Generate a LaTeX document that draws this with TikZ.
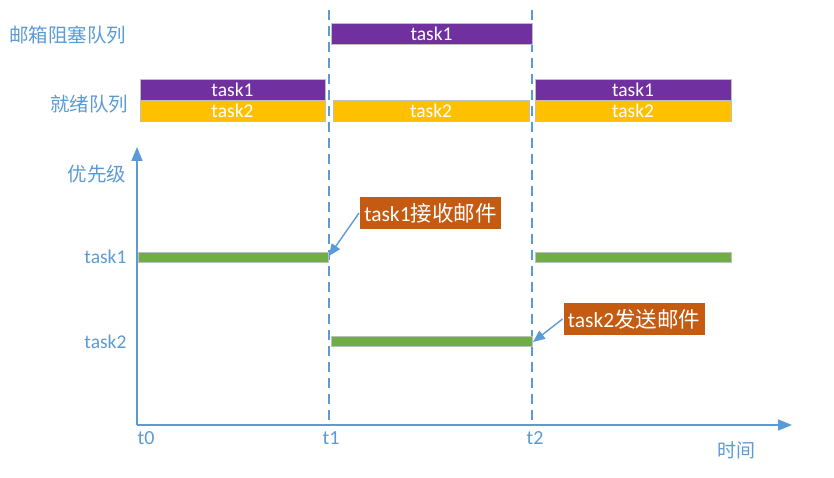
\documentclass[tikz,border=0pt]{standalone}
\usepackage{fontspec}
\setmainfont{Carlito}
\newfontfamily\cjk{Noto Sans CJK SC}
\usetikzlibrary{arrows.meta}
\definecolor{axblue}{HTML}{5B9BD5}
\definecolor{tpurple}{HTML}{7030A0}
\definecolor{tyellow}{HTML}{FFC000}
\definecolor{tgreen}{HTML}{70AD47}
\definecolor{torange}{HTML}{C55A11}
\begin{document}
\begin{tikzpicture}[x=1pt,y=-1pt,
  bar/.style={draw=black!25,line width=0.8pt,minimum height=21pt,inner sep=0pt,text=white,font=\fontsize{19.5}{19.5}\selectfont},
  pbar/.style={bar,fill=tpurple},
  ybar/.style={bar,fill=tyellow},
  gbar/.style={draw=black!25,line width=0.6pt,fill=tgreen,minimum height=10pt,inner sep=0pt},
  lab/.style={text=axblue,anchor=east,font=\fontsize{19.5}{19.5}\selectfont},
  clab/.style={text=axblue,anchor=east,font=\cjk\fontsize{19.5}{19.5}\selectfont},
  callout/.style={fill=torange,draw=white,line width=0.6pt,text=white,inner xsep=5pt,minimum height=33pt,font=\fontsize{21.5}{21.5}\selectfont},
  tick/.style={text=axblue,font=\fontsize{20}{20}\selectfont},
  dashline/.style={draw=axblue,line width=1.5pt,dash pattern=on 10pt off 6pt},
  axis/.style={draw=axblue,line width=1.6pt,-{Triangle[length=14pt,width=11pt]}},
  pointer/.style={draw=axblue,line width=1.4pt,-{Triangle[length=12pt,width=10pt]}}
]
\useasboundingbox (0,0) rectangle (834,478);
% dashed time markers
\coordinate (d1t) at (329,10);
\coordinate (d1b) at (329,425);
\coordinate (d2t) at (532,10);
\coordinate (d2b) at (532,425);
\draw[dashline] (d1t) -- (d1b);
\draw[dashline] (d2t) -- (d2b);
% axes
\coordinate (o) at (137,425);
\coordinate (ytop) at (137,147);
\coordinate (xend) at (792,425);
\draw[axis] (o) -- (ytop);
\draw[axis] (o) -- (xend);
% mailbox queue
\node[clab] (mbq) at (130,35) {邮箱阻塞队列};
\node[pbar,minimum width=201pt] (mb1) at (431.5,34) {task1};
% ready queue
\node[clab] (rq) at (132,104) {就绪队列};
\node[pbar,minimum width=185pt] (r1a) at (232.5,89.5) {task1};
\node[ybar,minimum width=185pt] (r1b) at (232.5,110.5) {task2};
\node[ybar,minimum width=196pt] (r2b) at (431,110.5) {task2};
\node[pbar,minimum width=196pt] (r3a) at (633,89.5) {task1};
\node[ybar,minimum width=196pt] (r3b) at (633,110.5) {task2};
% priority axis labels
\node[clab] (prio) at (130,174) {优先级};
\node[lab] (l1) at (130,257) {task1};
\node[lab] (l2) at (130,342) {task2};
% green execution bars
\node[gbar,minimum width=190pt] (g1) at (233.5,257) {};
\node[gbar,minimum width=201pt] (g2) at (431.5,341.5) {};
\node[gbar,minimum width=196pt] (g3) at (633,257) {};
% ticks
\node[tick] (t0) at (146,438) {t0};
\node[tick] (t1) at (331,438) {t1};
\node[tick] (t2) at (535,438) {t2};
\node[text=axblue,font=\cjk\fontsize{19}{19}\selectfont] (time) at (736,450) {时间};
% callouts
\node[callout] (c1) at (430.5,213) {task1{\cjk 接收邮件}};
\node[callout] (c2) at (634,319) {task2{\cjk 发送邮件}};
\coordinate (a1) at (329,256);
\coordinate (a2) at (533,342);
\draw[pointer] (c1.west) -- (a1);
\draw[pointer] (c2.west) -- (a2);
\end{tikzpicture}
\end{document}
